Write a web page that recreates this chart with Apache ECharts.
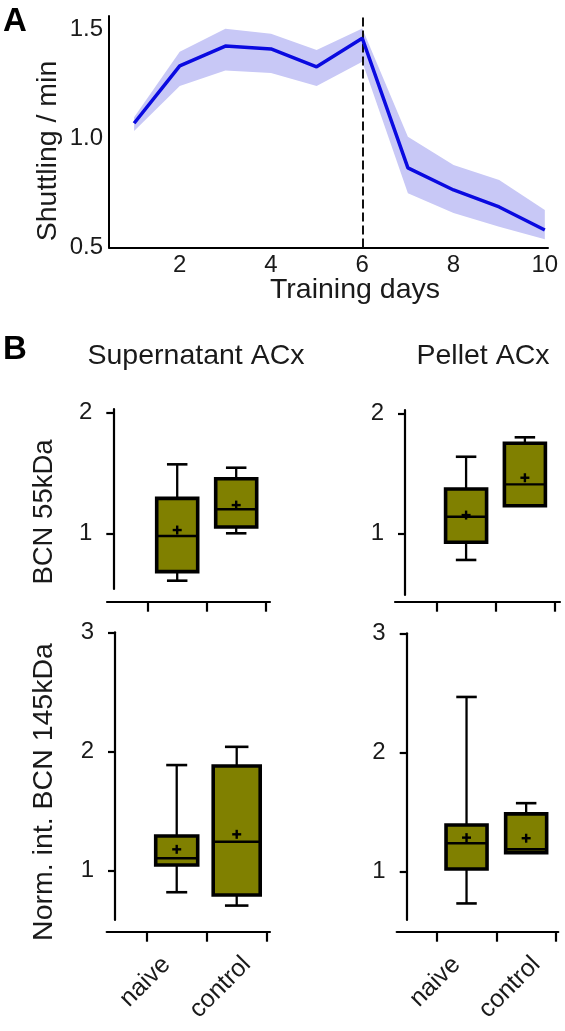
<!DOCTYPE html>
<html><head><meta charset="utf-8">
<script src="https://cdn.jsdelivr.net/npm/echarts@6/dist/echarts.min.js"></script>
<style>html,body{margin:0;padding:0;background:#fff}#c{width:565px;height:1031px}</style>
</head><body><div id="c"></div>
<script>
// ---- Panel A data ----
const days = [1, 2, 3, 4, 5, 6, 7, 8, 9, 10];
const shuttleMean  = [1.070, 1.333, 1.424, 1.411, 1.329, 1.460, 0.865, 0.764, 0.686, 0.580];
const shuttleUpper = [1.098, 1.398, 1.503, 1.480, 1.406, 1.505, 1.008, 0.878, 0.810, 0.672];
const shuttleLower = [1.034, 1.241, 1.312, 1.301, 1.241, 1.352, 0.749, 0.658, 0.595, 0.538];
const trainingEndDay = 6;
const xTicksA = [2, 4, 6, 8, 10];
const yTicksA = [0.5, 1.0, 1.5];

// ---- Panel B data: [min, Q1, median, Q3, max, mean] ----
const groups = ['naive', 'control'];
const supernatant55  = [[0.607, 0.682, 0.978, 1.290, 1.572, 1.027], [1.000, 1.052, 1.199, 1.452, 1.544, 1.234]];
const pellet55       = [[0.778, 0.925, 1.138, 1.369, 1.638, 1.152], [1.230, 1.230, 1.408, 1.750, 1.800, 1.463]];
const supernatant145 = [[0.819, 1.048, 1.104, 1.291, 1.886, 1.179], [0.707, 0.796, 1.243, 1.878, 2.039, 1.305]];
const pellet145      = [[0.734, 1.023, 1.239, 1.392, 2.466, 1.286], [1.160, 1.160, 1.188, 1.485, 1.575, 1.281]];
const yTicks55 = [1, 2];
const yTicks145 = [1, 2, 3];
const groupBoundaries = [0.5, 1.5, 2.5];
const groupPositions = [1, 2];

// layout: where the rotated group labels are anchored on the x axis
const labelAnchors = [0.83, 2.17];

const FONT = 'Liberation Sans, Arial, sans-serif';
const TXT = '#1a1a1a';
const OLIVE = '#808000';

const panels = [
  {data: supernatant55, ticks: yTicks55, grid: {left: 107, top: 409, width: 163, height: 180},
   xr: [-0.19, 2.573], yr: [0.538, 2.031], yOff: -6.3, xOff: 12.7, labels: false, bw: [41, 41]},
  {data: pellet55, ticks: yTicks55, grid: {left: 395, top: 410, width: 165, height: 185},
   xr: [-0.209, 2.597], yr: [0.486, 2.0275], yOff: -10, xOff: 6.7, labels: false, bw: [41, 41]},
  {data: supernatant145, ticks: yTicks145, grid: {left: 106.7, top: 632.3, width: 163.3, height: 287.7},
   xr: [-0.167, 2.555], yr: [0.586, 3.0], yOff: -8.3, xOff: 11.7, labels: true, bw: [42, 47]},
  {data: pellet145, ticks: yTicks145, grid: {left: 396.7, top: 633.3, width: 161.6, height: 286.7},
   xr: [-0.171, 2.539], yr: [0.595, 3.0], yOff: -10, xOff: 11.7, labels: true, bw: [41, 41]}
];

const grids = [{left: 109, top: 16, width: 439, height: 231.5}];
const xAxes = [{
  type: 'value', gridIndex: 0, min: 0.45, max: 10.07,
  axisLine: {onZero: false, lineStyle: {color: '#000', width: 2}},
  axisTick: {show: false}, splitLine: {show: false},
  axisLabel: {customValues: xTicksA, color: TXT, fontSize: 24, fontFamily: FONT, margin: 6}
}];
const yAxes = [{
  type: 'value', gridIndex: 0, min: 0.5, max: 1.562,
  axisLine: {show: true, onZero: false, lineStyle: {color: '#000', width: 2}},
  axisTick: {show: false}, splitLine: {show: false},
  axisLabel: {customValues: yTicksA, formatter: v => v.toFixed(1), color: TXT, fontSize: 24, fontFamily: FONT, margin: 6}
}];

function bandRenderer(params, api) {
  if (params.dataIndex !== 0) return null;
  const n = params.dataInsideLength;
  const up = [], lo = [];
  for (let i = 0; i < n; i++) {
    const d = api.value(0, i);
    up.push(api.coord([d, api.value(2, i)]));
    lo.push(api.coord([d, api.value(1, i)]));
  }
  return {type: 'polygon', shape: {points: up.concat(lo.reverse())},
    style: {fill: '#c8c8f6', stroke: null}};
}

const series = [
  {type: 'custom', xAxisIndex: 0, yAxisIndex: 0, silent: true, renderItem: bandRenderer,
   encode: {x: 0, y: [1, 2]}, z: 1,
   data: days.map((d, i) => [d, shuttleLower[i], shuttleUpper[i]]),
   markLine: {symbol: 'none', silent: true, label: {show: false},
     lineStyle: {type: [9, 4], color: '#111', width: 2}, data: [{xAxis: trainingEndDay}]}},
  {type: 'line', xAxisIndex: 0, yAxisIndex: 0, symbol: 'none', silent: true,
   lineStyle: {color: '#0a0ae0', width: 3.5}, data: days.map((d, i) => [d, shuttleMean[i]]), z: 5}
];

function boxRenderer(p) {
  return function (params, api) {
    const x = api.value(0);
    const mn = api.value(1), q1 = api.value(2), md = api.value(3), q3 = api.value(4), mx = api.value(5), mean = api.value(6);
    const c = v => api.coord([x, v]);
    const cx = c(md)[0];
    const bw = p.bw[params.dataIndex];
    const cap = bw * 0.5;
    const yMin = c(mn)[1], yQ1 = c(q1)[1], yMd = c(md)[1], yQ3 = c(q3)[1], yMx = c(mx)[1], yMean = c(mean)[1];
    const st = w => ({stroke: '#000', lineWidth: w, fill: null});
    const pl = 4.5;
    return {type: 'group', children: [
      {type: 'line', shape: {x1: cx, y1: yMx, x2: cx, y2: yQ3}, style: st(2.3)},
      {type: 'line', shape: {x1: cx, y1: yQ1, x2: cx, y2: yMin}, style: st(2.3)},
      {type: 'line', shape: {x1: cx - cap / 2, y1: yMx, x2: cx + cap / 2, y2: yMx}, style: st(2.6)},
      {type: 'line', shape: {x1: cx - cap / 2, y1: yMin, x2: cx + cap / 2, y2: yMin}, style: st(2.6)},
      {type: 'rect', shape: {x: cx - bw / 2, y: yQ3, width: bw, height: yQ1 - yQ3},
       style: {fill: OLIVE, stroke: '#000', lineWidth: 3.6}},
      {type: 'line', shape: {x1: cx - bw / 2, y1: yMd, x2: cx + bw / 2, y2: yMd}, style: st(2.4)},
      {type: 'line', shape: {x1: cx - pl, y1: yMean, x2: cx + pl, y2: yMean}, style: st(2.4)},
      {type: 'line', shape: {x1: cx, y1: yMean - pl, x2: cx, y2: yMean + pl}, style: st(2.4)}
    ]};
  };
}

panels.forEach((p, k) => {
  const gi = k + 1;
  grids.push(p.grid);
  xAxes.push({
    type: 'value', gridIndex: gi, min: p.xr[0], max: p.xr[1], offset: p.xOff,
    axisLine: {onZero: false, lineStyle: {color: '#000', width: 2.2}},
    axisTick: {show: true, customValues: groupBoundaries, length: 10, lineStyle: {color: '#000', width: 2.2}},
    splitLine: {show: false},
    axisLabel: p.labels ? {customValues: labelAnchors, formatter: v => groups[v < 1.5 ? 0 : 1],
      rotate: 45, margin: 29, color: TXT, fontSize: 25, fontFamily: FONT} : {show: false}
  });
  yAxes.push({
    type: 'value', gridIndex: gi, min: p.yr[0], max: p.yr[1], offset: p.yOff,
    axisLine: {show: true, onZero: false, lineStyle: {color: '#000', width: 2.2}},
    axisTick: {show: true, customValues: p.ticks, length: 7, lineStyle: {color: '#000', width: 2.2}},
    splitLine: {show: false},
    axisLabel: {customValues: p.ticks, color: TXT, fontSize: 24, fontFamily: FONT, margin: 21}
  });
  series.push({
    type: 'custom', xAxisIndex: gi, yAxisIndex: gi, silent: true,
    renderItem: boxRenderer(p),
    encode: {x: 0, y: [1, 2, 3, 4, 5, 6]},
    data: p.data.map((row, i) => [groupPositions[i]].concat(row))
  });
});

function txt(text, x, y, size, opts) {
  opts = opts || {};
  return {type: 'text', x: x, y: y, rotation: opts.rot || 0, silent: true,
    style: {text: text, fill: opts.fill || TXT, font: (opts.bold ? 'bold ' : '') + size + 'px ' + FONT,
      align: 'center', verticalAlign: 'middle', textAlign: 'center', textVerticalAlign: 'middle'}};
}

const graphics = [
  txt('A', 15, 22, 33, {bold: true, fill: '#000'}),
  txt('B', 15, 350, 33, {bold: true, fill: '#000'}),
  txt('Shuttling / min', 48, 151, 28.5, {rot: Math.PI / 2}),
  txt('Training days', 355, 290, 28.5),
  txt('Supernatant ACx', 196, 356, 28.5),
  txt('Pellet ACx', 483, 356, 28.5),
  txt('BCN 55kDa', 44, 512, 27.5, {rot: Math.PI / 2}),
  txt('Norm. int. BCN 145kDa', 44, 792, 28.5, {rot: Math.PI / 2})
];

const chart = echarts.init(document.getElementById('c'), null, {renderer: 'canvas'});
chart.setOption({
  animation: false,
  backgroundColor: '#fff',
  grid: grids,
  xAxis: xAxes,
  yAxis: yAxes,
  series: series,
  graphic: {elements: graphics}
});
</script></body></html>
